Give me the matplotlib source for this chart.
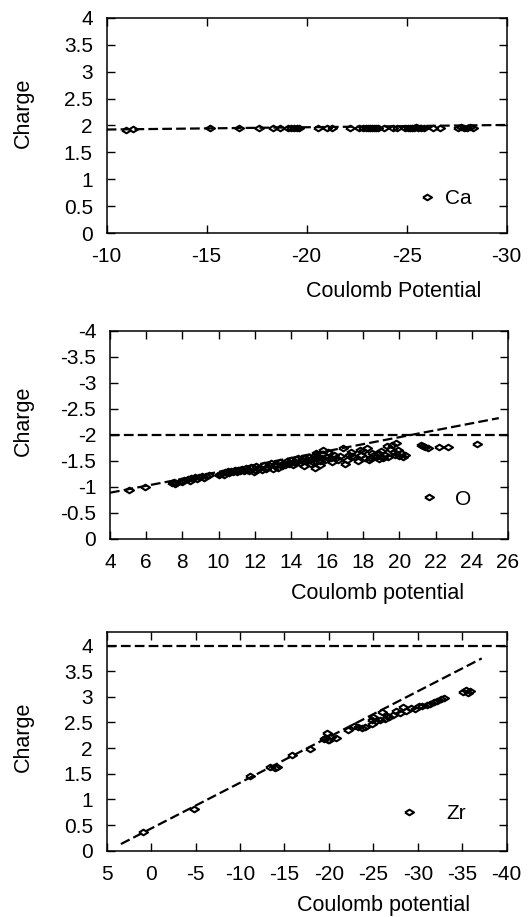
import matplotlib
matplotlib.use("Agg")
import matplotlib.pyplot as plt
from matplotlib.ticker import FuncFormatter

plt.rcParams["font.family"] = ["Liberation Sans", "DejaVu Sans"]
plt.rcParams["axes.unicode_minus"] = False
plt.rcParams["lines.scale_dashes"] = False

# --- Ca: charge vs Coulomb potential ---
ca_x = [-10.95, -11.3, -15.15, -16.6, -17.6, -18.3, -18.65, -19.05, -19.2, -19.35,
        -19.5, -19.6, -20.55, -21.0, -21.25, -22.15, -22.6, -22.8, -22.95, -23.05,
        -23.15, -23.25, -23.35, -23.45, -23.55, -23.85, -24.3, -24.5, -24.9, -25.05,
        -25.15, -25.25, -25.35, -25.45, -25.55, -25.7, -25.85, -26.3, -26.65, -27.55,
        -27.7, -27.85, -28.0, -28.15, -28.3]
ca_q = [1.91, 1.93, 1.95, 1.96, 1.96, 1.95, 1.96, 1.96, 1.95, 1.96,
        1.96, 1.95, 1.96, 1.95, 1.96, 1.96, 1.96, 1.95, 1.96, 1.96,
        1.95, 1.96, 1.96, 1.95, 1.96, 1.96, 1.96, 1.95, 1.96, 1.96,
        1.95, 1.96, 1.96, 1.97, 1.96, 1.96, 1.96, 1.96, 1.96, 1.96,
        1.97, 1.96, 1.96, 1.97, 1.96]
ca_fit_x = [-10.0, -30.0]
ca_fit_q = [1.925, 2.01]

# --- O ---
o_x = [5.05, 5.95, 7.45, 7.55, 7.65, 7.9, 8.1, 8.3, 8.5, 8.7,
       8.9, 9.1, 9.3, 9.5, 10.05, 10.2, 10.35, 10.5, 10.7, 10.9,
       11.1, 11.3, 11.5, 11.6, 11.8, 11.95, 12.1, 12.3, 12.5, 12.7,
       12.9, 13.0, 13.2, 13.4, 13.6, 13.8, 13.9, 14.0, 14.2, 14.3,
       14.5, 14.6, 14.7, 14.8, 14.9, 15.0, 15.1, 15.2, 15.3, 15.35,
       15.5, 15.6, 15.7, 15.8, 15.9, 16.0, 16.1, 16.3, 16.5, 16.7,
       16.9, 17.0, 17.1, 17.3, 17.5, 17.7, 17.9, 18.1, 18.2, 18.3,
       18.5, 18.7, 18.9, 19.2, 19.4, 19.5, 19.6, 19.7, 19.8, 19.9,
       20.0, 20.3, 21.2, 21.4, 21.6, 22.2, 22.7, 24.3, 10.1, 10.3,
       11.0, 11.4, 12.0, 12.6, 13.1, 13.5, 14.1, 14.4, 15.4, 15.6,
       16.2, 16.4, 17.2, 18.0, 18.4, 18.8, 19.1, 19.3, 20.1, 7.6,
       8.0, 8.4, 8.8, 9.2, 10.6, 10.8, 11.2, 11.7, 12.2, 12.4,
       12.8, 13.3, 13.7, 14.25, 14.65, 15.05, 15.25, 15.45, 15.75, 16.05,
       16.6, 17.4, 17.8, 18.6, 19.0, 19.75, 20.2, 21.3]
o_q = [-0.94, -1.00, -1.07, -1.10, -1.08, -1.12, -1.13, -1.15, -1.16, -1.18,
       -1.19, -1.20, -1.21, -1.22, -1.22, -1.27, -1.29, -1.31, -1.30, -1.32,
       -1.33, -1.35, -1.36, -1.33, -1.38, -1.28, -1.40, -1.37, -1.41, -1.38,
       -1.45, -1.34, -1.43, -1.47, -1.45, -1.49, -1.44, -1.51, -1.48, -1.53,
       -1.46, -1.52, -1.39, -1.55, -1.50, -1.58, -1.44, -1.53, -1.60, -1.36,
       -1.56, -1.49, -1.63, -1.70, -1.52, -1.58, -1.64, -1.47, -1.55, -1.60,
       -1.75, -1.44, -1.52, -1.66, -1.58, -1.49, -1.62, -1.55, -1.75, -1.51,
       -1.65, -1.58, -1.53, -1.62, -1.57, -1.72, -1.80, -1.66, -1.84, -1.70,
       -1.60, -1.62, -1.81, -1.77, -1.74, -1.77, -1.77, -1.82, -1.25, -1.23,
       -1.29, -1.31, -1.33, -1.35, -1.40, -1.39, -1.42, -1.55, -1.64, -1.42,
       -1.56, -1.62, -1.62, -1.68, -1.56, -1.64, -1.55, -1.78, -1.65, -1.05,
       -1.10, -1.12, -1.15, -1.17, -1.26, -1.28, -1.31, -1.30, -1.36, -1.32,
       -1.41, -1.37, -1.42, -1.45, -1.49, -1.52, -1.48, -1.57, -1.55, -1.66,
       -1.52, -1.60, -1.70, -1.61, -1.69, -1.62, -1.58, -1.79]
o_fit_x = [4.0, 25.5]
o_fit_q = [-0.885, -2.32]
o_nominal = -2.0

# --- Zr ---
zr_x = [0.95, -4.8, -11.1, -13.4, -13.9, -14.2, -15.9, -17.9, -19.5, -19.8,
        -19.9, -20.2, -20.8, -22.1, -22.8, -23.3, -23.7, -24.1, -24.9, -25.0,
        -25.3, -25.7, -26.0, -26.3, -26.8, -27.2, -27.6, -28.0, -28.3, -28.7,
        -29.2, -29.7, -30.1, -30.5, -31.0, -31.4, -31.8, -32.2, -32.6, -33.0,
        -35.1, -35.4, -35.6, -35.9, -19.6, -20.0, -24.8, -26.5]
zr_q = [0.37, 0.82, 1.45, 1.64, 1.61, 1.63, 1.86, 1.98, 2.17, 2.29,
        2.16, 2.21, 2.20, 2.35, 2.44, 2.42, 2.40, 2.41, 2.48, 2.60,
        2.52, 2.55, 2.70, 2.57, 2.60, 2.64, 2.72, 2.68, 2.80, 2.73,
        2.78, 2.76, 2.82, 2.83, 2.85, 2.87, 2.90, 2.92, 2.95, 2.97,
        3.10, 3.13, 3.08, 3.12, 2.19, 2.15, 2.55, 2.62]
zr_fit_x = [3.4, -37.2]
zr_fit_q = [0.13, 3.75]
zr_nominal = 4.0

DIAMOND = [(-1, 0), (0, 0.62), (1, 0), (0, -0.62), (-1, 0)]
DASH = (0, (7, 3))


def style_axes(ax):
    ax.tick_params(direction="in", length=6, width=1, top=True, right=True,
                   labelsize=15, pad=10)
    for s in ax.spines.values():
        s.set_linewidth(1.1)
    fmt = FuncFormatter(lambda v, _: f"{v:g}")
    ax.xaxis.set_major_formatter(fmt)
    ax.yaxis.set_major_formatter(fmt)


def scatter(ax, x, q, label):
    ax.plot(x, q, linestyle="none", marker=DIAMOND, ms=6.5, mfc="none",
            mec="black", mew=1.5, label=label)


def legend(ax, x0, y0, gap):
    ax.legend(loc="center left", bbox_to_anchor=(x0, y0), frameon=False,
              numpoints=1, handlelength=1.0, handletextpad=gap,
              borderpad=0, borderaxespad=0, fontsize=15)


def labels(ax, xlabel, xl, yl):
    ax.set_xlabel(xlabel, fontsize=15.5)
    ax.set_ylabel("Charge", fontsize=15.5)
    ax.xaxis.set_label_coords(*xl)
    ax.xaxis.label.set_verticalalignment("center")
    ax.yaxis.set_label_coords(*yl)
    ax.yaxis.label.set_verticalalignment("center")


fig = plt.figure(figsize=(5.29, 9.17), dpi=100)

# Ca
ax1 = fig.add_axes([0.2017, 0.7456, 0.756, 0.2351])
scatter(ax1, ca_x, ca_q, "Ca")
ax1.plot(ca_fit_x, ca_fit_q, color="black", lw=1.6, linestyle=DASH)
ax1.set_xlim(-10, -30)
ax1.set_ylim(0, 4)
ax1.set_xticks([-10, -15, -20, -25, -30])
ax1.set_yticks([0, 0.5, 1, 1.5, 2, 2.5, 3, 3.5, 4])
style_axes(ax1)
legend(ax1, 0.774, 0.16, 0.4)
labels(ax1, "Coulomb Potential", (0.717, -0.271), (-0.209, 0.56))

# O
ax2 = fig.add_axes([0.208, 0.4125, 0.752, 0.2268])
scatter(ax2, o_x, o_q, "O")
ax2.plot(o_fit_x, o_fit_q, color="black", lw=1.6, linestyle=DASH)
ax2.axhline(o_nominal, color="black", lw=1.6, linestyle=DASH)
ax2.set_xlim(4, 26)
ax2.set_ylim(0, -4)
ax2.set_xticks(list(range(4, 27, 2)))
ax2.set_yticks([0, -0.5, -1, -1.5, -2, -2.5, -3, -3.5, -4])
style_axes(ax2)
legend(ax2, 0.775, 0.19, 0.75)
labels(ax2, "Coulomb potential", (0.673, -0.2625), (-0.218, 0.566))

# Zr
ax3 = fig.add_axes([0.2017, 0.0723, 0.756, 0.2388])
scatter(ax3, zr_x, zr_q, "Zr")
ax3.plot(zr_fit_x, zr_fit_q, color="black", lw=1.6, linestyle=DASH)
ax3.axhline(zr_nominal, color="black", lw=1.6, linestyle=DASH)
ax3.set_xlim(5, -40)
ax3.set_ylim(0, 4.27)
ax3.set_xticks(list(range(5, -41, -5)))
ax3.set_yticks([0, 0.5, 1, 1.5, 2, 2.5, 3, 3.5, 4])
style_axes(ax3)
legend(ax3, 0.73, 0.17, 1.3)
labels(ax3, "Coulomb potential", (0.693, -0.248), (-0.209, 0.52))

fig.savefig("out.png", dpi=100)
